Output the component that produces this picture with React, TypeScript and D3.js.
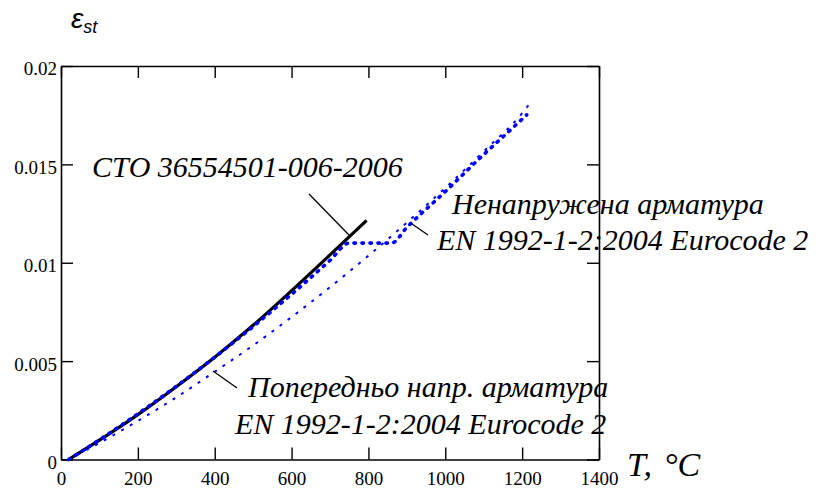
import React, { useEffect, useRef } from 'react';
import * as d3 from 'd3';

// temperature ticks, strain ticks
const xTicks = [0, 200, 400, 600, 800, 1000, 1200, 1400];
const yTicks = [0, 0.005, 0.01, 0.015, 0.02];

// СТО 36554501-006-2006 (solid black)
const stoT = [20, 100, 200, 300, 400, 500, 600, 700, 795];
const stoE = [0, 0.00098, 0.00228, 0.0037, 0.0052, 0.00682, 0.00858, 0.0104, 0.01215];

// EN 1992-1-2, ненапружена арматура (thick blue dots)
const rebarT = [20, 100, 200, 300, 400, 500, 600, 700, 750, 860, 900, 1000, 1100, 1200, 1212];
const rebarE = [0, 0.001, 0.00232, 0.00372, 0.0052, 0.00676, 0.0084, 0.01012, 0.011, 0.011, 0.0118, 0.01362, 0.0155, 0.0173, 0.01752];

// EN 1992-1-2, попередньо напружена арматура (thin blue dots)
const tendonT = [20, 100, 200, 300, 400, 500, 600, 700, 800, 900, 1000, 1100, 1200, 1220];
const tendonE = [0, 0.00084, 0.00196, 0.00316, 0.00446, 0.0058, 0.00724, 0.00876, 0.01036, 0.01204, 0.0138, 0.01566, 0.0176, 0.0181];

const W = 823;
const H = 494;
const serif = "Liberation Serif, Tinos, 'Times New Roman', Times, 'DejaVu Serif', serif";
const sans = "Liberation Sans, Arimo, Arial, sans-serif";

export default function App() {
  const axRef = useRef<SVGGElement>(null);

  const x = d3.scaleLinear().domain([0, 1400]).range([61, 599]);
  const y = d3.scaleLinear().domain([0, 0.02]).range([459.5, 66]);

  const line = d3
    .line<[number, number]>()
    .x(d => x(d[0]))
    .y(d => y(d[1]))
    .curve(d3.curveMonotoneX);

  const zip = (a: number[], b: number[]) => a.map((t, i) => [t, b[i]] as [number, number]);

  useEffect(() => {
    const g = d3.select(axRef.current);
    g.selectAll('*').remove();

    const style = (sel: any) => {
      sel.attr('font-family', null).attr('font-size', null);
      sel.selectAll('path').attr('stroke-width', 1.6);
      sel.selectAll('line').attr('stroke-width', 1.4);
      sel.selectAll('text').attr('fill', '#000').style('font-family', serif).style('font-size', '19px');
    };

    g.append('g')
      .attr('transform', `translate(0,${y(0)})`)
      .call(d3.axisBottom(x).tickValues(xTicks).tickSize(-12).tickSizeOuter(0).tickPadding(12).tickFormat(d => String(d)))
      .call(style);

    g.append('g')
      .attr('transform', `translate(0,${y(0.02)})`)
      .call(d3.axisTop(x).tickValues(xTicks).tickSize(-12).tickSizeOuter(0).tickFormat(() => ''))
      .call(style);

    const left = g.append('g')
      .attr('transform', `translate(${x(0)},0)`)
      .call(d3.axisLeft(y).tickValues(yTicks).tickSize(-12).tickSizeOuter(0).tickPadding(4).tickFormat(d => String(d)))
      .call(style);
    left.selectAll('text').attr('dy', '0.47em');

    g.append('g')
      .attr('transform', `translate(${x(1400)},0)`)
      .call(d3.axisRight(y).tickValues(yTicks).tickSize(-12).tickSizeOuter(0).tickFormat(() => ''))
      .call(style);
  }, []);

  const annot = { fontStyle: 'italic', fill: '#000', style: { fontFamily: serif, fontSize: '30px' } } as const;

  return (
    <svg width={W} height={H} style={{ position: 'absolute', left: 0, top: 0, background: '#fff' }}>
      <rect width={W} height={H} fill="#fff" />
      <g ref={axRef} />

      <path d={line(zip(stoT, stoE)) || ''} fill="none" stroke="#000" strokeWidth={3.2} />
      <path d={line(zip(tendonT, tendonE)) || ''} fill="none" stroke="#0000ff" strokeWidth={2} strokeDasharray="3 7" />
      <path d={line(zip(rebarT, rebarE)) || ''} fill="none" stroke="#0000ff" strokeWidth={3.6} strokeLinecap="round" strokeDasharray="1.5 6.5" />

      {/* y label */}
      <text x={71} y={28} fontStyle="italic" style={{ fontFamily: sans, fontSize: '28px' }}>
        ε<tspan dy={5} style={{ fontSize: '18px' }}>st</tspan>
      </text>

      {/* x label */}
      <text x={627} y={476} fontStyle="italic" style={{ fontFamily: serif, fontSize: '34px' }}>
        T,<tspan dx={12}>°C</tspan>
      </text>

      {/* annotations */}
      <text x={92} y={177} {...annot}>СТО 36554501-006-2006</text>
      <line x1={309} y1={194} x2={349} y2={235} stroke="#000" strokeWidth={1.3} />

      <text x={452} y={214} {...annot}>Ненапружена арматура</text>
      <text x={437} y={250} {...annot}>EN 1992-1-2:2004 Eurocode 2</text>
      <line x1={412} y1={224} x2={428} y2={235} stroke="#000" strokeWidth={1.3} />

      <text x={248} y={397} {...annot}>Попередньо напр. арматура</text>
      <text x={235} y={434} {...annot}>EN 1992-1-2:2004 Eurocode 2</text>
      <line x1={213} y1={371} x2={237} y2={388} stroke="#000" strokeWidth={1.3} />
    </svg>
  );
}
